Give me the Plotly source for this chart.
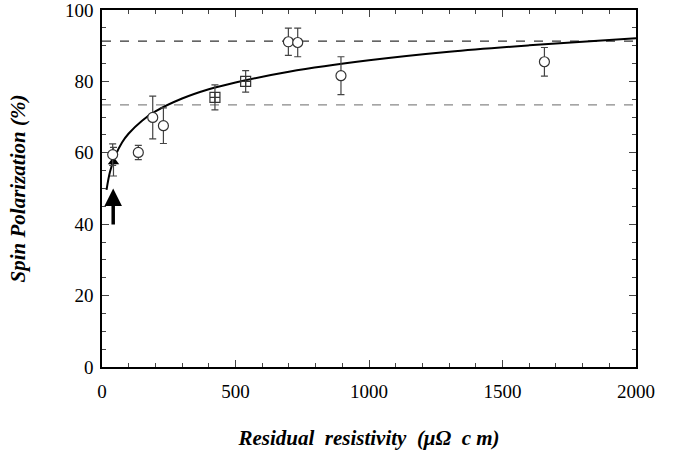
import plotly.graph_objects as go

# Circles (open, white fill)
circ_x = [40, 136, 190, 230, 698, 733, 895, 1657]
circ_y = [59.5, 60.1, 69.9, 67.6, 91.1, 90.9, 81.6, 85.5]
circ_e = [3.0, 2.0, 6.0, 5.0, 3.8, 4.0, 5.3, 4.0]

# Squares (open with cross)
sq_x = [423, 538]
sq_y = [75.5, 80.0]
sq_e = [3.5, 3.0]

# Filled triangle point
tri_x = [43]
tri_y = [57.5]
tri_e = [4.0]

# Fit curve
fit_x = [17, 30, 50, 75, 100, 150, 200, 300, 400, 500, 700, 1000, 1300, 1600, 2000]
fit_y = [49.6, 54.7, 59.2, 62.9, 65.4, 69.0, 71.6, 75.2, 77.8, 79.7, 82.7, 85.9, 88.3, 90.1, 92.1]

# Reference dashed levels
level_hi = 91.3
level_lo = 73.4
x_range = [0, 2000]

# Arrow (tail -> head)
arrow_x = [42, 42]
arrow_y = [39.5, 50.0]

fig = go.Figure()

fig.add_trace(go.Scatter(x=x_range, y=[level_hi, level_hi], mode="lines",
                         line=dict(color="#333333", width=1.3, dash="dash"),
                         showlegend=False, hoverinfo="skip"))
fig.add_trace(go.Scatter(x=x_range, y=[level_lo, level_lo], mode="lines",
                         line=dict(color="#888888", width=1.3, dash="dash"),
                         showlegend=False, hoverinfo="skip"))
fig.add_trace(go.Scatter(x=fit_x, y=fit_y, mode="lines", line_shape="spline",
                         line=dict(color="black", width=2),
                         showlegend=False))

err_style = dict(type="data", visible=True, thickness=1.2, width=3.5, color="#444444")

fig.add_trace(go.Scatter(x=sq_x, y=sq_y, mode="markers",
                         error_y=dict(array=sq_e, **err_style),
                         marker=dict(symbol="square-cross-open", size=10,
                                     color="#333333", line=dict(width=1.2)),
                         showlegend=False))
fig.add_trace(go.Scatter(x=tri_x, y=tri_y, mode="markers",
                         error_y=dict(array=tri_e, **err_style),
                         marker=dict(symbol="triangle-up", size=10, color="black"),
                         showlegend=False))
fig.add_trace(go.Scatter(x=circ_x, y=circ_y, mode="markers",
                         error_y=dict(array=circ_e, **err_style),
                         marker=dict(symbol="circle", size=10, color="white",
                                     line=dict(color="#333333", width=1.2)),
                         showlegend=False))

fig.add_annotation(x=arrow_x[1], y=arrow_y[1], ax=arrow_x[0], ay=arrow_y[0],
                   xref="x", yref="y", axref="x", ayref="y",
                   showarrow=True, arrowhead=2, arrowsize=1, arrowwidth=3.5,
                   arrowcolor="black", text="")

font_family = "Liberation Serif, Times New Roman, serif"

fig.update_layout(
    width=681, height=455,
    margin=dict(l=102, r=45, t=10, b=88, autoexpand=False),
    paper_bgcolor="white", plot_bgcolor="white",
    font=dict(family=font_family, size=19, color="black"),
    xaxis=dict(range=[0, 2000], tickvals=[0, 500, 1000, 1500, 2000],
               automargin=False, ticklabelstandoff=6, ticklabeloverflow="allow",
               showgrid=False, zeroline=False, showline=True, linecolor="black",
               linewidth=1.5, mirror="allticks", ticks="inside", ticklen=7,
               tickcolor="#444444", tickwidth=1,
               minor=dict(dtick=100, ticks="inside", ticklen=4, tickcolor="#444444", showgrid=False),
               title=dict(text="<b><i>Residual  resistivity  (μΩ  c m)</i></b>",
                          font=dict(size=21), standoff=30)),
    yaxis=dict(range=[0, 100], tickvals=[0, 20, 40, 60, 80, 100],
               automargin=False, ticklabelstandoff=3, ticklabeloverflow="allow",
               showgrid=False, zeroline=False, showline=True, linecolor="black",
               linewidth=1.5, mirror="allticks", ticks="inside", ticklen=7,
               tickcolor="#444444", tickwidth=1,
               minor=dict(dtick=5, ticks="inside", ticklen=4, tickcolor="#444444", showgrid=False),
               title=dict(text="<b><i>Spin Polarization (%)</i></b>",
                          font=dict(size=21), standoff=34)),
)

fig.write_html("out.html")
